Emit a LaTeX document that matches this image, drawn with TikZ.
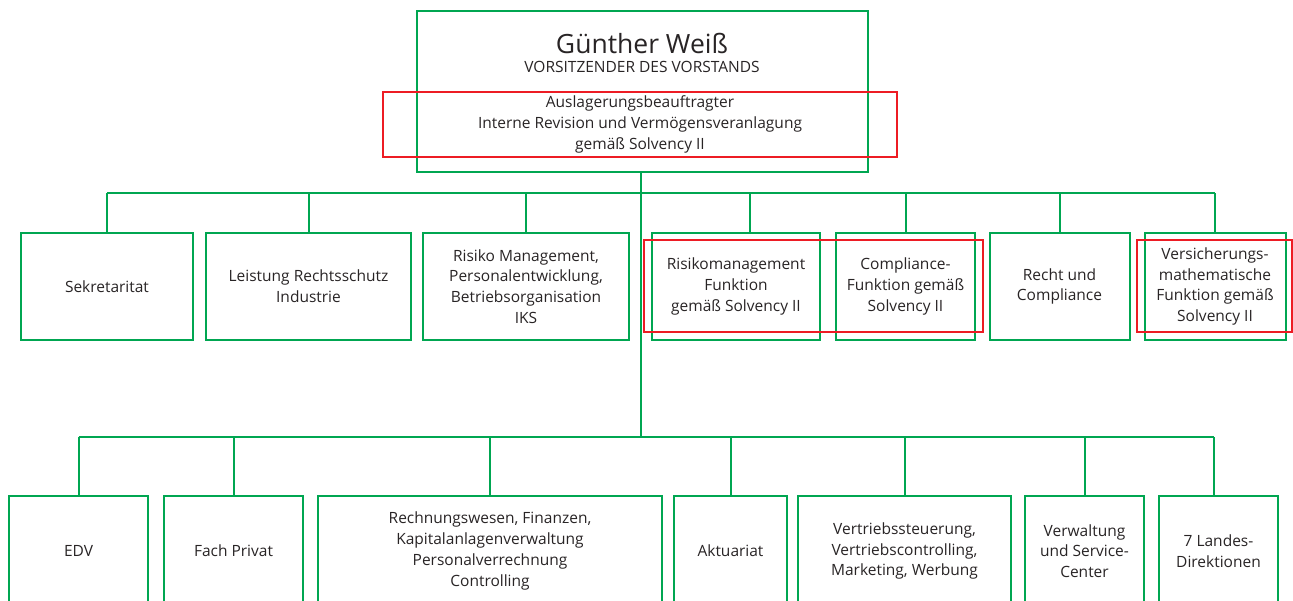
\documentclass[tikz,border=0pt]{standalone}
\usepackage{fontspec}
\setmainfont{Open Sans}
\definecolor{orggreen}{RGB}{0,166,81}
\definecolor{orgred}{RGB}{237,28,36}
\definecolor{txt}{RGB}{40,36,37}
\tikzset{
  gbox/.style={draw=orggreen, line width=2pt, inner sep=0pt, align=center, text=txt,
    font=\fontsize{15.5}{20.7}\selectfont},
  rbox/.style={draw=orgred, line width=2pt, inner sep=0pt, align=center, text=txt,
    font=\fontsize{15.5}{20.7}\selectfont},
  conn/.style={draw=orggreen, line width=2pt},
  lbl/.style={inner sep=0pt, align=center, text=txt, font=\fontsize{15.5}{20.7}\selectfont}
}
\begin{document}
\begin{tikzpicture}[x=1pt,y=-1pt]
\useasboundingbox (0,0) rectangle (1293,601);
\clip (0,0) rectangle (1293,601);
% bus coordinates
\coordinate (bus1) at (641,193);
\coordinate (bus2) at (641,437);
% top box
\node[gbox, minimum width=451pt, minimum height=161pt] (ceo) at (642.5,91.5) {};
\node[lbl, font=\fontsize{26.5}{30}\selectfont] (name) at (642,43) {Günther Weiß};
\node[lbl, font=\fontsize{15.5}{20}\selectfont] (title) at (642,67) {VORSITZENDER DES VORSTANDS};
% middle row
\node[gbox, minimum width=172pt, minimum height=107pt] (sek) at (107,286.5) {Sekretaritat};
\node[gbox, minimum width=205pt, minimum height=107pt] (leist) at (308.5,286.5) {Leistung Rechtsschutz\\Industrie};
\node[gbox, minimum width=206pt, minimum height=107pt] (risiko) at (526,286.5) {Risiko Management,\\Personalentwicklung,\\Betriebsorganisation\\IKS};
\node[gbox, minimum width=168pt, minimum height=107pt] (rmf) at (736,286.5) {Risikomanagement\\Funktion\\gemäß Solvency II};
\node[gbox, minimum width=139pt, minimum height=107pt] (comp) at (905.5,286.5) {Compliance-\\Funktion gemäß\\Solvency II};
\node[gbox, minimum width=140pt, minimum height=107pt] (recht) at (1059.5,286.5) {Recht und\\Compliance};
\node[gbox, minimum width=141pt, minimum height=107pt] (vers) at (1215,286.5) {Versicherungs-\\mathematische\\Funktion gemäß\\Solvency II};
% bottom row
\node[gbox, minimum width=139pt, minimum height=110pt] (edv) at (78.5,551) {EDV};
\node[gbox, minimum width=139pt, minimum height=110pt] (fach) at (233.5,551) {Fach Privat};
\node[gbox, minimum width=344pt, minimum height=110pt] (rech) at (490,551) {Rechnungswesen, Finanzen,\\Kapitalanlagenverwaltung\\Personalverrechnung\\Controlling};
\node[gbox, minimum width=113pt, minimum height=110pt] (akt) at (730.5,551) {Aktuariat};
\node[gbox, minimum width=213pt, minimum height=110pt] (vert) at (904.5,551) {Vertriebssteuerung,\\Vertriebscontrolling,\\Marketing, Werbung};
\node[gbox, minimum width=119pt, minimum height=110pt] (verw) at (1084.5,551) {Verwaltung\\und Service-\\Center};
\node[gbox, minimum width=119pt, minimum height=110pt] (land) at (1218.5,551) {7 Landes-\\Direktionen};
% connectors
\draw[conn] (ceo.south -| bus1) -- (bus2);
\draw[conn] (sek.north |- bus1) -- (vers.north |- bus1);
\draw[conn] (sek.north) -- (sek.north |- bus1);
\draw[conn] (leist.north) -- (leist.north |- bus1);
\draw[conn] (risiko.north) -- (risiko.north |- bus1);
\coordinate (rmtop) at (750,233);
\draw[conn] (rmtop) -- (rmtop |- bus1);
\draw[conn] (comp.north) -- (comp.north |- bus1);
\draw[conn] (recht.north) -- (recht.north |- bus1);
\draw[conn] (vers.north) -- (vers.north |- bus1);
\draw[conn] (edv.north |- bus2) -- (1214,437);
\draw[conn] (edv.north) -- (edv.north |- bus2);
\draw[conn] (fach.north) -- (fach.north |- bus2);
\draw[conn] (rech.north) -- (rech.north |- bus2);
\draw[conn] (akt.north) -- (akt.north |- bus2);
\draw[conn] (vert.north) -- (vert.north |- bus2);
\draw[conn] (verw.north) -- (verw.north |- bus2);
\coordinate (landtop) at (1214,496);
\draw[conn] (landtop) -- (landtop |- bus2);
% red boxes
\node[rbox, minimum width=514pt, minimum height=65pt] (ausl) at (640,124.5) {Auslagerungsbeauftragter\\Interne Revision und Vermögensveranlagung\\gemäß Solvency II};
\node[draw=orgred, line width=2pt, minimum width=339pt, minimum height=92pt, inner sep=0pt] (redmid) at (813.5,286) {};
\node[draw=orgred, line width=2pt, minimum width=155pt, minimum height=92pt, inner sep=0pt] (redvers) at (1214.5,286) {};
\end{tikzpicture}
\end{document}
